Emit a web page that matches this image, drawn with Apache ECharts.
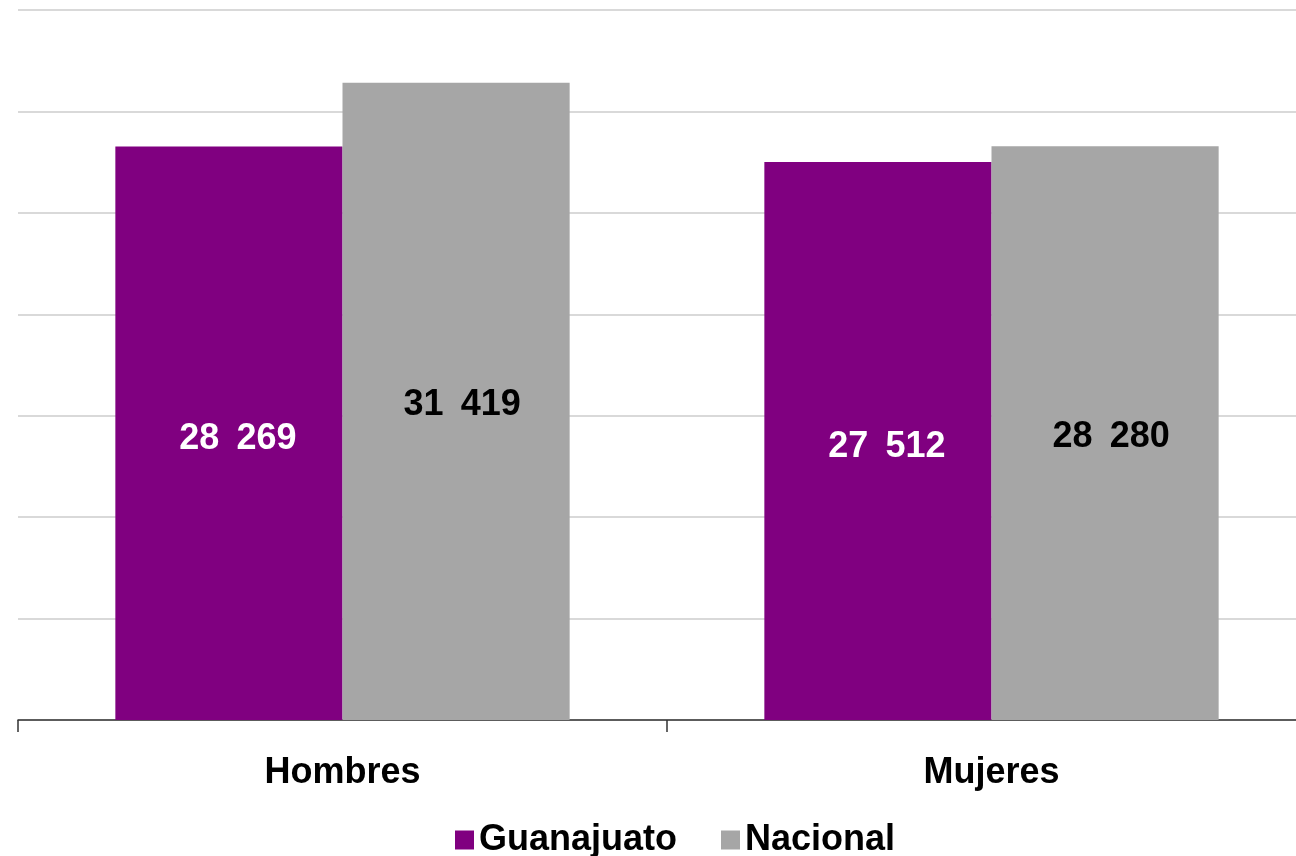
<!DOCTYPE html>
<html>
<head>
<meta charset="utf-8">
<script src="https://cdn.jsdelivr.net/npm/echarts@6/dist/echarts.min.js"></script>
<style>
  html, body { margin: 0; padding: 0; background: #fff; overflow: hidden; }
  #chart { width: 1316px; height: 856px; }
</style>
</head>
<body>
<div id="chart"></div>
<script>
var categories = ["Hombres", "Mujeres"];
var guanajuato = [28269, 27512];
var nacional = [31419, 28280];

function fmt(v) {
  return String(v).replace(/\B(?=(\d{3})+(?!\d))/g, "\u2009 ");
}

var myChart = echarts.init(document.getElementById("chart"));
var font = "Liberation Sans, Arial, sans-serif";

var option = {
  animation: false,
  grid: { left: 18, right: 0, top: 10, bottom: 136, containLabel: false },
  legend: {
    top: 817,
    left: 450,
    itemWidth: 19,
    itemHeight: 19,
    itemGap: 44,
    icon: "rect",
    textStyle: { fontFamily: font, fontWeight: "bold", fontSize: 36, color: "#000" },
    data: ["Guanajuato", "Nacional"]
  },
  xAxis: {
    type: "category",
    data: categories,
    axisLine: { show: true, lineStyle: { color: "#333", width: 1.5 } },
    axisTick: { show: true, length: 12, lineStyle: { color: "#333", width: 1.5 } },
    axisLabel: { margin: 35, fontFamily: font, fontWeight: "bold", fontSize: 36, color: "#000" }
  },
  yAxis: {
    type: "value",
    min: 0,
    max: 35000,
    interval: 5000,
    axisLabel: { show: false },
    axisLine: { show: false },
    axisTick: { show: false },
    splitLine: { lineStyle: { color: "#d9d9d9", width: 2 } }
  },
  series: [
    {
      name: "Guanajuato",
      type: "bar",
      data: guanajuato,
      barGap: "0%",
      barCategoryGap: "30%",
      itemStyle: { color: "#800080" },
      label: {
        show: true,
        position: "inside",
        offset: [9, 6],
        formatter: function (p) { return fmt(p.value); },
        fontFamily: font, fontWeight: "bold", fontSize: 36, color: "#fff"
      }
    },
    {
      name: "Nacional",
      type: "bar",
      data: nacional,
      itemStyle: { color: "#a6a6a6" },
      label: {
        show: true,
        position: "inside",
        offset: [6, 4],
        formatter: function (p) { return fmt(p.value); },
        fontFamily: font, fontWeight: "bold", fontSize: 36, color: "#000"
      }
    }
  ]
};
myChart.setOption(option);
</script>
</body>
</html>
